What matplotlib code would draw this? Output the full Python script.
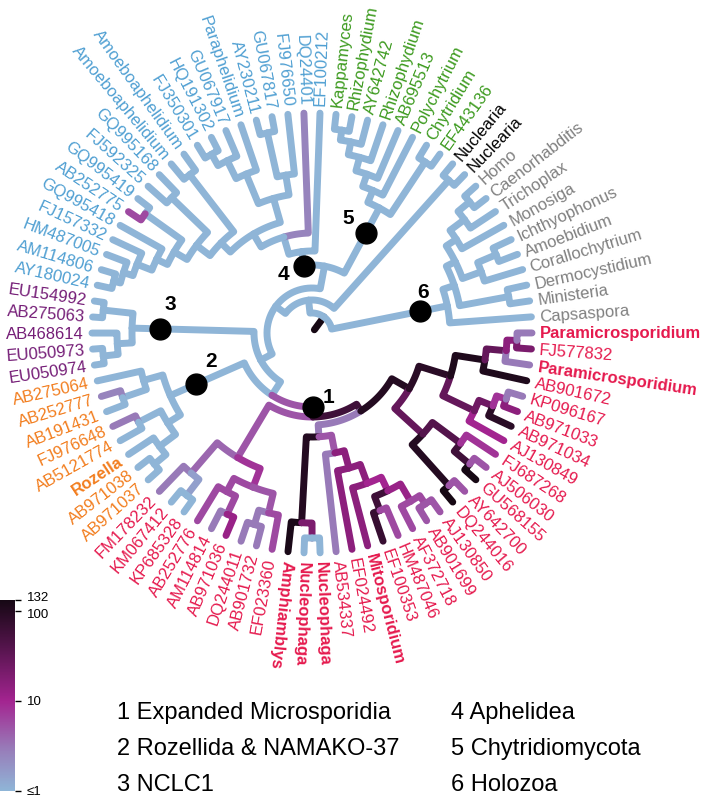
"""Circular phylogeny of Holomycota / Microsporidia with per-branch values.

Tree is kept as an annotated Newick string: ``name:radius[value]`` where radius is the
node's distance from the centre (px) and value colours the branch leading to it.
Writes out.png.
"""
import re

import numpy as np
import matplotlib
matplotlib.use("Agg")
import matplotlib as mpl
import matplotlib.pyplot as plt
import matplotlib.transforms as mtransforms
from matplotlib.colors import LinearSegmentedColormap, LogNorm

# ---- data -------------------------------------------------------------------
HOLOZOA = ("(Capsaspora,((Ministeria,Dermocystidium):200,((Corallochytrium,(Amoebidium,"
           "Ichthyophonus):200):180,(Monosiga,(Trichoplax,(Caenorhabditis,Homo):205):190)"
           ":172):160):150)6:138")
NUCLEARIA = "(Nuclearia,Nuclearia):205"
CHYTRID = ("((EF443136,Chytridium):205,(Polychytrium,(AB695513,(Rhizophydium,(AY642742,"
           "(Rhizophydium,Kappamyces):205):195):182):168):155)5:142")
APH_A = ("((FJ976650,(GU067817,AY230211):205):160,(Paraphelidium,(GU067917,"
         "(HQ191302,FJ350301):205):192):172):140")
APH_ENV = ("((GQ995168,FJ592325):195,((GQ995419,AB252775[6]):205,(GQ995418,(FJ157332,"
           "(HM487005,(AM114806,AY180024):205):198):188):172):160):145")
APHELID = ("(EF100212,(DQ24401[2.5],(" + APH_A + ",((Amoeboaphelidium,Amoeboaphelidium)"
           ":200," + APH_ENV + "):128):115):100)4:82")
NCLC = "((EU154992,AB275063):210,(AB468614,(EU050973,EU050974):210):195)3:180"
ROZELLIDA = ("((AB275064,(AB252777[2.5],AB191431):200):175,((FJ976648[3],AB5121774):195,"
             "(Rozella,(AB971038,AB971037):205):190):170)2:155")
MICRO_L = ("((FM178232[3],(KM067412,KP685328):205[1.5]):185[4],((AB252776[6],(AM114814[3],"
           "AB971036[12]):200[6]):180[6],((DQ244011[3],AB901732[3]):200[3],EF023360[6])"
           ":185[5]):165[8]):145[5]")
MICRO_M = ("((Amphiamblys[120],(Nucleophaga,Nucleophaga):205[20]):190[100],(AB534337[3],"
           "(EF024492[15],(Mitosporidium[15],((EF100353[70],HM487046[6]):190[60],(AF372718[6],"
           "(AB901699[5],AJ130850[5]):205[6]):195[12]):175[10]):160[15]):140[15]):122[5]):104[3]")
MICRO_R = ("(((DQ244016[132],AY642700[5]):205[100],((GU568155[132],AJ506030[5]):205[60],"
           "FJ687268[8]):185[40]):150[30],((AJ130849[10],(AB971034[90],(AB971033[15],"
           "KP096167[3]):205[8]):195[25]):180[30],(AB901672[110],(Paramicrosporidium[3],"
           "(FJ577832[20],Paramicrosporidium[3]):205[15]):195[30]):175[110]):145[90]):112[100]")
MICRO = "(" + MICRO_L + ",(" + MICRO_M + "," + MICRO_R + "):92[60])1:84[5]"
FUNGI = ("((" + CHYTRID + "," + APHELID + "):68,(" + NCLC + ",(" + ROZELLIDA + "," + MICRO
         + "):74):58):45")
TREE = "(" + HOLOZOA + ",(" + NUCLEARIA + "," + FUNGI + "):33):20[132]"

GROUP_SIZES = [10, 2, 8, 20, 5, 8, 33]
GROUP_COLORS = ["#808080", "#000000", "#3c9a1e", "#4f9fd2", "#741c76", "#f27d1e", "#e5194d"]
BOLD_LEAVES = {"Paramicrosporidium", "Rozella", "Amphiamblys", "Nucleophaga", "Mitosporidium"}

LEGEND = ["1 Expanded Microsporidia", "2 Rozellida & NAMAKO-37", "3 NCLC1",
          "4 Aphelidea", "5 Chytridiomycota", "6 Holozoa"]

CBAR_TICKS = [1, 10, 100, 132]
CBAR_LABELS = ["≤1", "10", "100", "132"]
CMAP_POS = [0.0, 0.225, 0.471, 0.755, 1.0]
CMAP_COLORS = ["#8fb5d7", "#987ab8", "#a32490", "#54144c", "#160814"]

# ---- layout -------------------------------------------------------------------
W, H = 709, 803
CX, CY = 312, 334
R_TIP, R_LAB = 220, 228
ANGLE0 = 4.2
FLIP_MAX = 262
LW = 5.0
NUM_OFFSET = {"1": (16, -10), "2": (15, -24), "3": (10, -25),
              "4": (-20, 8), "5": (-18, -15), "6": (3, -20)}
CBAR_NUDGE = [0, 0, -3, 3]   # px, keeps "100"/"132" apart


def parse(s):
    s = re.sub(r"\s+", "", s)
    tok = re.compile(r"([^:\[\],()]*)(?::([\d.]+))?(?:\[([\d.]+)\])?")
    pos = 0

    def node():
        nonlocal pos
        kids = []
        if s[pos] == "(":
            pos += 1
            kids.append(node())
            while s[pos] == ",":
                pos += 1
                kids.append(node())
            pos += 1
        m = tok.match(s, pos)
        pos = m.end()
        name, r, v = m.groups()
        return {"name": name, "r": float(r) if r else None,
                "v": float(v) if v else 1.0, "kids": kids}

    return node()


def xy(r, a):
    t = np.radians(a)
    return CX + r * np.cos(t), CY - r * np.sin(t)


root = parse(TREE)
leaves = []


def layout(n, n_total):
    if not n["kids"]:
        n["a"] = ANGLE0 + len(leaves) * 360.0 / n_total
        n["r"] = n["r"] or R_TIP
        leaves.append(n)
    else:
        for k in n["kids"]:
            layout(k, n_total)
        n["a"] = (n["kids"][0]["a"] + n["kids"][-1]["a"]) / 2


layout(root, sum(GROUP_SIZES))

cmap = LinearSegmentedColormap.from_list("vals", list(zip(CMAP_POS, CMAP_COLORS)))
norm = LogNorm(vmin=1, vmax=132)

plt.rcParams["font.family"] = ["Liberation Sans", "DejaVu Sans"]
fig = plt.figure(figsize=(W / 100, H / 100), dpi=100)
ax = fig.add_axes([0, 0, 1, 1])
ax.set_xlim(0, W)
ax.set_ylim(H, 0)
ax.axis("off")

markers = []


def draw(n, parent):
    col = cmap(norm(n["v"]))
    if parent is None:
        xs, ys = xy(np.array([4, n["r"]]), n["a"])
    else:
        arc = np.linspace(parent["a"], n["a"], max(2, int(abs(n["a"] - parent["a"]) * 2) + 1))
        xa, ya = xy(parent["r"], arc)
        xe, ye = xy(n["r"], n["a"])
        xs, ys = np.r_[xa, xe], np.r_[ya, ye]
        if n["kids"] and n["name"] in NUM_OFFSET:
            markers.append((n["name"], max(parent["r"], n["r"] - 28), n["a"]))
    ax.plot(xs, ys, color=col, lw=LW, solid_capstyle="round",
            solid_joinstyle="round", zorder=2)
    for k in n["kids"]:
        draw(k, n)


draw(root, None)

for name, r, a in markers:
    x, y = xy(r, a)
    ax.plot(x, y, "o", color="black", ms=15, zorder=4)
    dx, dy = NUM_OFFSET[name]
    ax.text(x + dx, y + dy, name, fontsize=15, fontweight="bold",
            ha="center", va="center", zorder=5)

leaf_colors = np.repeat(GROUP_COLORS, GROUP_SIZES)
for leaf, col in zip(leaves, leaf_colors):
    a = leaf["a"]
    x, y = xy(R_LAB, a)
    flip = 90 < a < FLIP_MAX
    ax.text(x, y, leaf["name"], color=col, fontsize=12,
            fontweight="bold" if leaf["name"] in BOLD_LEAVES else "normal",
            rotation=a - 180 if flip else a, rotation_mode="anchor",
            ha="right" if flip else "left", va="center")

for i, item in enumerate(LEGEND):
    ax.text(117 if i < 3 else 451, 713 + 36 * (i % 3), item, fontsize=17,
            ha="left", va="center")

cax = fig.add_axes([0, 11 / H, 15 / W, 191 / H])
cb = mpl.colorbar.ColorbarBase(cax, cmap=cmap, norm=norm, orientation="vertical")
cb.set_ticks(CBAR_TICKS)
cb.set_ticklabels([""] * len(CBAR_TICKS))
cb.minorticks_off()
cb.outline.set_visible(False)
cax.tick_params(length=4, width=1)
for val, lab, dy in zip(CBAR_TICKS, CBAR_LABELS, CBAR_NUDGE):
    tr = mtransforms.offset_copy(cax.get_yaxis_transform(), fig=fig, y=dy, units="dots")
    cax.text(1.8, val, lab, transform=tr, fontsize=9.5, ha="left", va="center")

fig.savefig("out.png", dpi=100)
